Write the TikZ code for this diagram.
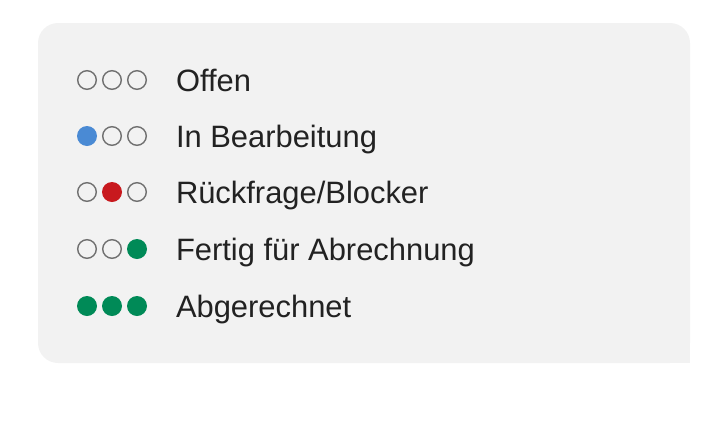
\documentclass[tikz,border=0pt]{standalone}
\usepackage{fontspec}
\setmainfont{Liberation Sans}
\usetikzlibrary{positioning}
\definecolor{panelgray}{HTML}{F2F2F2}
\definecolor{ringgray}{HTML}{707070}
\definecolor{textdark}{HTML}{222222}
\definecolor{dotblue}{HTML}{4A8AD4}
\definecolor{dotred}{HTML}{C8191E}
\definecolor{dotgreen}{HTML}{008A57}
\begin{document}
\begin{tikzpicture}[
    x=1pt, y=-1pt,
    node distance=5pt,
    every node/.style={outer sep=0pt},
    ring/.style={draw=ringgray, line width=1.4pt, circle, inner sep=0pt, minimum size=18.6pt},
    blue dot/.style={fill=dotblue, circle, inner sep=0pt, minimum size=20pt},
    red dot/.style={fill=dotred, circle, inner sep=0pt, minimum size=20pt},
    green dot/.style={fill=dotgreen, circle, inner sep=0pt, minimum size=20pt},
    status/.style={anchor=base west, inner sep=0pt, text=textdark, font=\fontsize{30.9}{36}\selectfont}
  ]
  \useasboundingbox (0,0) rectangle (728,421);

  % Panel
  \fill[panelgray, rounded corners=20pt] (38,23) rectangle (690,363);
  \fill[panelgray] (650,323) rectangle (690,363);

  % Offen
  \node[ring] (offenA) at (87,80) {};
  \node[ring, right=6.4pt of offenA] (offenB) {};
  \node[ring, right=6.4pt of offenB] (offenC) {};
  \node[status] (offen) at (176,91) {Offen};

  % In Bearbeitung
  \node[blue dot] (bearbA) at (87,136) {};
  \node[ring, right=5.7pt of bearbA] (bearbB) {};
  \node[ring, right=6.4pt of bearbB] (bearbC) {};
  \node[status] (bearb) at (176,147) {In Bearbeitung};

  % Rueckfrage / Blocker
  \node[ring] (blockA) at (87,192) {};
  \node[red dot, right=5.7pt of blockA] (blockB) {};
  \node[ring, right=5.7pt of blockB] (blockC) {};
  \node[status] (block) at (176,203) {Rückfrage/Blocker};

  % Fertig fuer Abrechnung
  \node[ring] (fertigA) at (87,249) {};
  \node[ring, right=6.4pt of fertigA] (fertigB) {};
  \node[green dot, right=5.7pt of fertigB] (fertigC) {};
  \node[status] (fertig) at (176,260) {Fertig für Abrechnung};

  % Abgerechnet
  \node[green dot] (abgerA) at (87,306) {};
  \node[green dot, right=5pt of abgerA] (abgerB) {};
  \node[green dot, right=5pt of abgerB] (abgerC) {};
  \node[status] (abger) at (176,317) {Abgerechnet};

\end{tikzpicture}
\end{document}
